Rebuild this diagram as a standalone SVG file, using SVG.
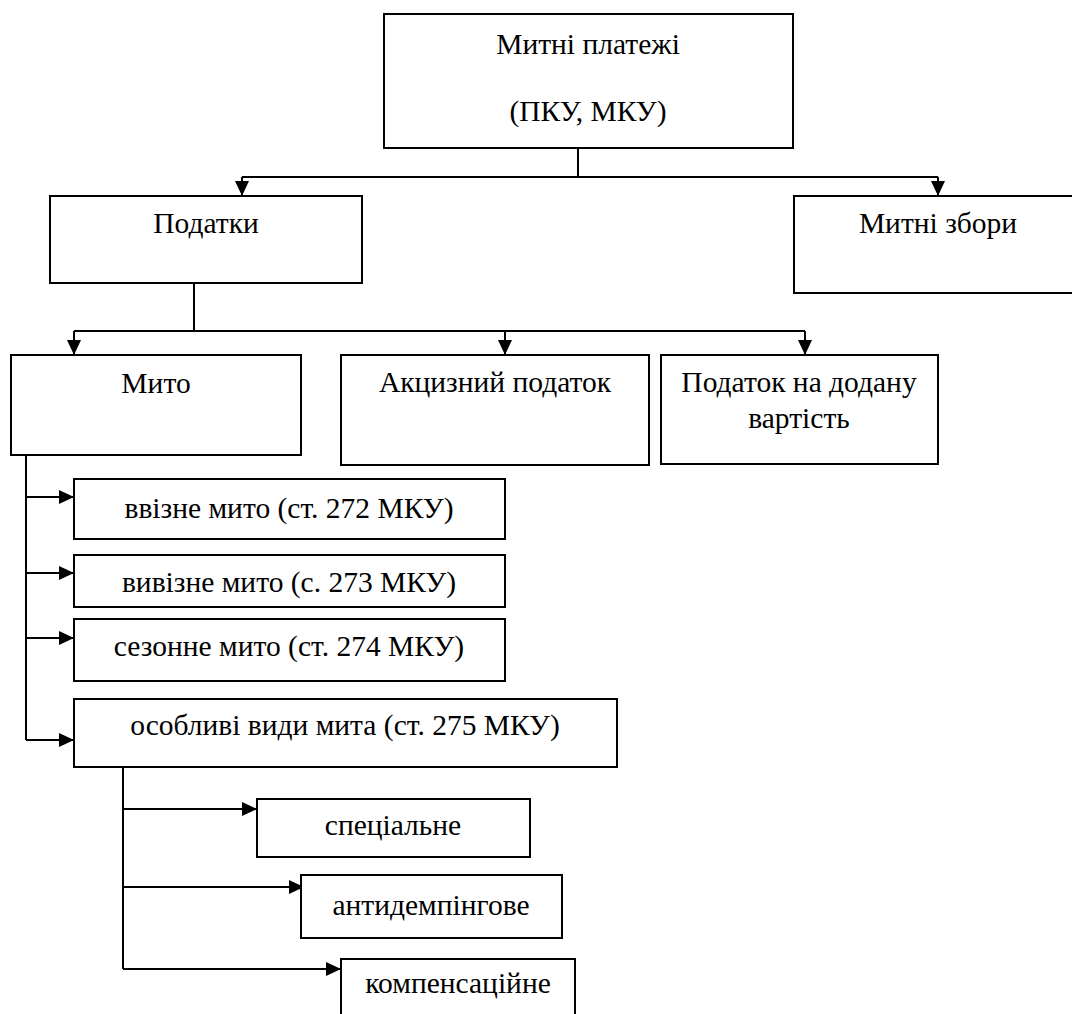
<svg xmlns="http://www.w3.org/2000/svg" width="1072" height="1014" viewBox="0 0 1072 1014">
<style>
.box{fill:#fff;stroke:#000;stroke-width:2}
text{font-family:"Liberation Serif",serif;font-size:29.5px;fill:#000;text-anchor:middle}
.c{fill:none;stroke:#000;stroke-width:2}
</style>
<defs>
<marker id="ah" markerUnits="userSpaceOnUse" markerWidth="16" markerHeight="14" refX="15" refY="7" orient="auto">
<path d="M0,0 L15,7 L0,14 z" fill="#000"/>
</marker>
</defs>
<rect width="1072" height="1014" fill="#fff"/>
<g id="connectors">
<path class="c" d="M578,148 V177 M242,177 H938"/>
<path class="c" d="M242,177 V196" marker-end="url(#ah)"/>
<path class="c" d="M938,177 V196" marker-end="url(#ah)"/>
<path class="c" d="M194,283 V331 M74,331 H805"/>
<path class="c" d="M74,331 V355" marker-end="url(#ah)"/>
<path class="c" d="M505,331 V355" marker-end="url(#ah)"/>
<path class="c" d="M805,331 V355" marker-end="url(#ah)"/>
<path class="c" d="M26,455 V740"/>
<path class="c" d="M26,497 H74" marker-end="url(#ah)"/>
<path class="c" d="M26,573 H74" marker-end="url(#ah)"/>
<path class="c" d="M26,638 H74" marker-end="url(#ah)"/>
<path class="c" d="M26,740 H74" marker-end="url(#ah)"/>
<path class="c" d="M123,767 V969"/>
<path class="c" d="M123,809 H257" marker-end="url(#ah)"/>
<path class="c" d="M123,887 H304" marker-end="url(#ah)"/>
<path class="c" d="M123,969 H341" marker-end="url(#ah)"/>
</g>
<g id="n-mytni-platezhi">
<rect class="box" x="384" y="14" width="409" height="134"/>
<text x="588" y="54">Митні платежі</text>
<text x="588" y="121">(ПКУ, МКУ)</text>
</g>
<g id="n-podatky">
<rect class="box" x="50" y="196" width="312" height="87"/>
<text x="206" y="233">Податки</text>
</g>
<g id="n-mytni-zbory">
<rect class="box" x="794" y="196" width="288" height="97"/>
<text x="938" y="233">Митні збори</text>
</g>
<g id="n-myto">
<rect class="box" x="11" y="355" width="290" height="100"/>
<text x="156" y="393">Мито</text>
</g>
<g id="n-aktsyz">
<rect class="box" x="341" y="355" width="308" height="110"/>
<text x="495" y="392">Акцизний податок</text>
</g>
<g id="n-pdv">
<rect class="box" x="661" y="355" width="277" height="109"/>
<text x="799" y="392">Податок на додану</text>
<text x="799" y="428">вартість</text>
</g>
<g id="n-vvizne">
<rect class="box" x="74" y="479" width="431" height="60"/>
<text x="289" y="518">ввізне мито (ст. 272 МКУ)</text>
</g>
<g id="n-vyvizne">
<rect class="box" x="74" y="555" width="431" height="52"/>
<text x="289" y="592">вивізне мито (с. 273 МКУ)</text>
</g>
<g id="n-sezonne">
<rect class="box" x="74" y="619" width="431" height="62"/>
<text x="289" y="656">сезонне мито (ст. 274 МКУ)</text>
</g>
<g id="n-osoblyvi">
<rect class="box" x="74" y="699" width="543" height="68"/>
<text x="345" y="735">особливі види мита (ст. 275 МКУ)</text>
</g>
<g id="n-spetsialne">
<rect class="box" x="257" y="799" width="273" height="58"/>
<text x="393" y="835">спеціальне</text>
</g>
<g id="n-antydempingove">
<rect class="box" x="301" y="875" width="261" height="63"/>
<text x="431" y="915">антидемпінгове</text>
</g>
<g id="n-kompensatsiine">
<rect class="box" x="341" y="959" width="234" height="70"/>
<text x="458" y="993">компенсаційне</text>
</g>
</svg>
